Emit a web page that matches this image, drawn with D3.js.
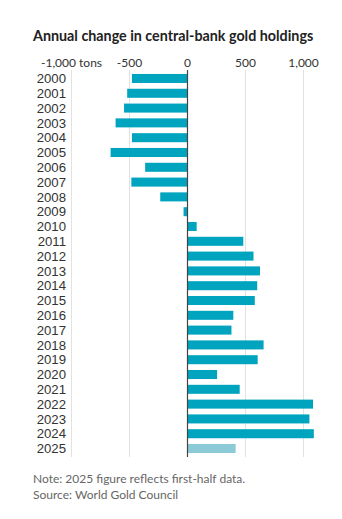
<!DOCTYPE html>
<html>
<head>
<meta charset="utf-8">
<script src="https://cdn.jsdelivr.net/npm/d3@7"></script>
<style>
  html, body { margin: 0; padding: 0; background: #fff; }
  svg { display: block; }
</style>
</head>
<body>
<svg id="chart" width="342" height="519"></svg>
<script>
// Net central-bank gold purchases/sales, tonnes per year
const years = ["2000","2001","2002","2003","2004","2005","2006","2007","2008","2009",
  "2010","2011","2012","2013","2014","2015","2016","2017","2018","2019",
  "2020","2021","2022","2023","2024","2025"];
const tons = [-479,-520,-547,-620,-479,-663,-365,-484,-235,-34,
  79,481,569,625,601,580,395,379,656,605,
  255,450,1082,1051,1089,415];
const partialYears = ["2025"];
const tickValues = [-1000,-500,0,500,1000];
const tickLabels = ["-1,000 tons","-500","0","500","1,000"];

const title = "Annual change in central-bank gold holdings";
const note = "Note: 2025 figure reflects first-half data.";
const source = "Source: World Gold Council";

const svg = d3.select("#chart");
const font = "Lato, 'Open Sans', sans-serif";
const yearFont = "'Liberation Sans', Arial, sans-serif";

const x = d3.scaleLinear().domain([-1000, 1000]).range([71.5, 303.5]);
const y = d3.scaleBand().domain(years).range([71, 456])
  .paddingInner(0.39).paddingOuter(0.2);

// title
svg.append("text")
  .attr("x", 33).attr("y", 41)
  .attr("font-family", font).attr("font-weight", 700)
  .attr("font-size", 14.3).attr("fill", "#222")
  .text(title);

// gridlines
svg.append("g").selectAll("line")
  .data(tickValues.filter(d => d !== 0))
  .join("line")
  .attr("x1", d => x(d)).attr("x2", d => x(d))
  .attr("y1", 70).attr("y2", 457)
  .attr("stroke", "#e2e2e2").attr("stroke-width", 1);

// tick labels
svg.append("g").selectAll("text")
  .data(tickValues)
  .join("text")
  .attr("x", d => x(d)).attr("y", 66.5)
  .attr("text-anchor", "middle")
  .attr("font-family", font).attr("font-size", 12).attr("fill", "#333")
  .text((d, i) => tickLabels[i]);

// bars
svg.append("g").selectAll("rect")
  .data(years.map((yr, i) => ({ yr, v: tons[i] })))
  .join("rect")
  .attr("x", d => x(Math.min(0, d.v)))
  .attr("width", d => Math.abs(x(d.v) - x(0)))
  .attr("y", d => y(d.yr))
  .attr("height", y.bandwidth())
  .attr("fill", d => partialYears.includes(d.yr) ? "#8ccad7" : "#00a4bf");

// zero line
svg.append("line")
  .attr("x1", x(0)).attr("x2", x(0))
  .attr("y1", 70).attr("y2", 457)
  .attr("stroke", "#444").attr("stroke-width", 1.2);

// year labels
svg.append("g").selectAll("text")
  .data(years)
  .join("text")
  .attr("x", 66).attr("y", d => y(d) + y.bandwidth() / 2)
  .attr("dy", "0.36em")
  .attr("text-anchor", "end")
  .attr("font-family", yearFont).attr("font-size", 13.2).attr("fill", "#333")
  .text(d => d);

// footnotes
svg.append("text")
  .attr("x", 33).attr("y", 483)
  .attr("font-family", font).attr("font-size", 12).attr("fill", "#666")
  .text(note);
svg.append("text")
  .attr("x", 33).attr("y", 499)
  .attr("font-family", font).attr("font-size", 12).attr("fill", "#666")
  .text(source);
</script>
</body>
</html>
